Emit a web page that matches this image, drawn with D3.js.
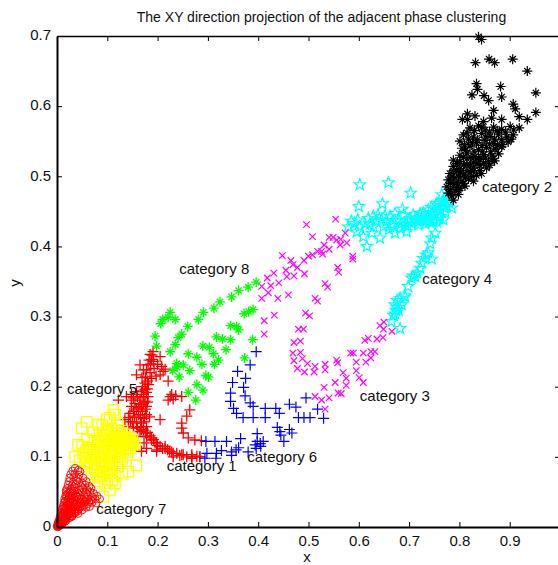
<!DOCTYPE html>
<html>
<head>
<meta charset="utf-8">
<script src="https://cdn.jsdelivr.net/npm/d3@7/dist/d3.min.js"></script>
<style>
html,body{margin:0;padding:0;background:#fff;overflow:hidden}
svg{display:block}
text{font-family:"Liberation Sans",Arial,sans-serif;fill:#111}
</style>
</head>
<body>
<svg id="chart" width="558" height="565"></svg>
<script>
const titleText = "The XY direction projection of the adjacent phase clustering";
const xTicks = [0,0.1,0.2,0.3,0.4,0.5,0.6,0.7,0.8,0.9];
const yTicks = [0,0.1,0.2,0.3,0.4,0.5,0.6,0.7];
const categoryNames = ["category 1","category 2","category 3","category 4","category 5","category 6","category 7","category 8"];
const categoryLabelAt = [[0.218,0.08],[0.845,0.478],[0.602,0.179],[0.726,0.346],[0.02,0.19],[0.378,0.093],[0.078,0.019],[0.243,0.361]];

const cat1 = [[.284,.100],[.268,.103],[.268,.098],[.248,.103],[.231,.105],[.231,.100],[.215,.115],[.198,.110],[.198,.120],[.188,.127],[.178,.129],[.168,.139],
[.264,.167],[.258,.158],[.248,.148],[.248,.141],[.251,.134],[.261,.127],[.274,.124],[.287,.123],
[.135,.153],[.142,.143],[.152,.141],[.165,.136],[.188,.124],[.195,.120],[.205,.115],[.215,.112],[.224,.108],[.238,.105],[.251,.103],[.268,.100],[.284,.100],[.198,.108],[.173,.120],[.168,.108],[.178,.112],
[.191,.250],[.185,.246],[.188,.239],[.205,.243],[.165,.231],[.181,.231],[.178,.224],[.208,.229],[.211,.222],[.205,.217],[.185,.220],[.158,.217],[.188,.212],[.221,.208],[.175,.205],[.175,.196],[.172,.189],[.158,.193],[.148,.189],[.228,.189],[.231,.182],[.221,.181],[.248,.186],[.165,.181],[.148,.181],[.138,.186],[.122,.181],[.175,.179],[.148,.172],[.162,.170],[.178,.172],[.145,.162],[.162,.160],[.178,.160],[.205,.153],[.172,.150],[.178,.143],[.158,.148],[.168,.172],[.181,.186],[.192,.236],[.169,.213],[.182,.203],[.155,.176],[.170,.165],[.184,.157],[.166,.143],[.176,.134],[.160,.129],
[.189,.245],[.183,.238],[.176,.214],[.180,.208],[.170,.200],[.178,.192],[.168,.194],[.160,.186],[.172,.184],[.152,.184],[.180,.178],[.158,.168],[.172,.176],[.176,.168],[.166,.156],[.174,.155],[.152,.165],[.142,.156],[.150,.150],[.160,.142],[.172,.138],[.180,.135],[.185,.130],[.192,.125],[.200,.116],[.210,.112],[.220,.110],[.228,.107],[.244,.102],[.258,.100],[.278,.101],[.197,.215],[.193,.226],[.215,.225],[.200,.232],[.225,.186],[.236,.187],[.165,.175],[.168,.148],[.154,.158],[.146,.150],[.180,.197],[.186,.232],[.172,.224]];

const cat2 = [[.838,.699],[.844,.695],[.832,.662],[.859,.667],[.870,.662],[.906,.667],[.935,.650],[.834,.632],[.836,.624],[.882,.628],[.825,.616],[.849,.615],[.858,.608],[.884,.613],[.952,.619],[.907,.603],[.911,.596],[.868,.594],[.952,.591],[.919,.585],[.935,.581],[.884,.581],[.864,.583],[.816,.589],[.831,.586],[.806,.581],[.816,.581],[.848,.578],
[.821,.569],[.838,.572],[.851,.566],[.868,.570],[.884,.567],[.901,.571],[.919,.569],[.808,.559],[.828,.556],[.844,.561],[.861,.557],[.878,.560],[.894,.556],[.907,.559],[.801,.550],[.818,.553],[.834,.548],[.851,.551],[.868,.547],[.884,.552],[.897,.549],[.805,.540],[.821,.543],[.838,.538],[.854,.541],[.871,.539],[.884,.542],[.801,.530],[.815,.533],[.831,.528],[.848,.531],[.864,.529],[.878,.532],[.788,.523],[.801,.521],[.815,.525],[.828,.520],[.841,.524],[.858,.521],[.868,.525],[.788,.514],[.801,.511],[.815,.516],[.828,.512],[.841,.515],[.854,.512],[.781,.504],[.795,.507],[.808,.502],[.821,.505],[.834,.501],[.844,.504],[.778,.495],[.791,.498],[.805,.493],[.818,.496],[.828,.493],[.775,.485],[.788,.488],[.801,.483],[.811,.486],[.778,.476],[.791,.479],[.798,.474],[.788,.466],
[.830,.565],[.845,.570],[.860,.563],[.875,.565],[.892,.563],[.908,.566],[.815,.562],[.836,.552],[.852,.556],[.870,.553],[.886,.545],[.903,.553],[.810,.545],[.826,.548],[.845,.544],[.860,.546],[.876,.544],[.812,.537],[.829,.535],[.846,.535],[.862,.535],[.808,.527],[.823,.527],[.838,.525],[.852,.526],[.870,.522],[.795,.518],[.808,.516],[.822,.516],[.835,.518],[.848,.518],[.860,.516],[.788,.508],[.802,.506],[.815,.508],[.828,.508],[.840,.508],[.785,.499],[.798,.500],[.812,.499],[.824,.500],[.782,.490],[.795,.491],[.808,.490],[.782,.481],[.795,.484],[.785,.472],[.798,.480]];

const cat3 = [[.554,.439],[.496,.431],[.508,.414],[.573,.419],[.541,.413],[.549,.413],[.556,.409],[.564,.410],[.563,.402],[.576,.405],[.531,.402],[.541,.396],[.588,.386],[.588,.382],[.526,.393],[.518,.393],[.528,.389],[.508,.388],[.500,.386],[.491,.380],[.448,.387],[.465,.380],[.469,.374],[.478,.370],[.455,.366],[.457,.357],[.471,.358],[.492,.361],[.558,.370],[.560,.363],[.431,.362],[.418,.355],[.407,.343],[.425,.344],[.441,.348],[.420,.334],[.407,.326],[.439,.326],[.460,.331],[.533,.347],[.538,.342],[.513,.326],[.518,.322],[.494,.305],[.502,.301],[.432,.302],[.412,.294],[.412,.275],[.480,.282],[.490,.282],[.471,.263],[.484,.265],[.469,.248],[.484,.249],[.471,.237],[.488,.240],[.478,.226],[.498,.233],[.492,.221],[.511,.221],[.513,.229],[.533,.232],[.533,.224],[.556,.238],[.558,.234],[.584,.248],[.589,.248],[.609,.248],[.614,.235],[.624,.250],[.632,.250],[.624,.241],[.595,.235],[.595,.223],[.569,.220],[.601,.213],[.575,.212],[.575,.202],[.609,.206],[.553,.206],[.531,.199],[.559,.191],[.565,.190],[.513,.186],[.526,.181],[.541,.184],[.533,.168],[.612,.266],[.619,.269],[.636,.268],[.648,.270],[.642,.287],[.650,.292],[.649,.282],[.666,.279]];

const cat4 = [[.602,.488],[.659,.491],[.703,.476],[.600,.457],[.647,.461],[.687,.453],[.765,.474],
[.579,.428],[.592,.433],[.602,.428],[.596,.421],[.609,.414],[.616,.400],[.619,.440],[.629,.443],[.629,.428],[.626,.419],[.642,.412],[.645,.438],[.649,.428],[.662,.443],[.672,.447],[.665,.431],[.672,.419],[.679,.438],[.689,.445],[.692,.431],[.695,.421],[.702,.440],[.712,.438],[.718,.431],[.722,.447],[.732,.445],[.738,.452],[.741,.440],[.751,.455],[.751,.445],[.758,.462],[.761,.450],[.768,.466],[.768,.438],[.775,.457],[.785,.455],[.778,.469],[.705,.433],[.728,.438],[.748,.435],[.682,.426],[.655,.436],[.635,.436],[.760,.440],[.745,.448],[.725,.440],[.765,.458],[.735,.437],[.772,.449],[.755,.435],
[.752,.419],[.745,.412],[.742,.404],[.734,.388],[.745,.382],[.725,.376],[.722,.369],[.712,.357],[.705,.355],[.698,.343],[.692,.328],[.682,.326],[.672,.317],[.685,.317],[.679,.309],[.669,.302],[.665,.293],[.682,.283],[.738,.391],[.728,.383],[.716,.362],[.676,.323],[.674,.309],
[.585,.436],[.598,.438],[.612,.432],[.638,.445],[.652,.444],[.668,.437],[.684,.432],[.698,.436],[.708,.445],[.716,.441],[.728,.448],[.736,.442],[.744,.456],[.750,.438],[.754,.461],[.762,.443],[.766,.463],[.770,.455],[.740,.435],[.720,.436],[.697,.428],[.660,.424],[.622,.432],[.668,.429],[.732,.432],[.756,.451],[.773,.463],[.780,.462],[.708,.358],[.676,.313],[.672,.304],[.691,.330]];

const cat5 = [[.112,.167],[.059,.150],[.049,.141],[.082,.146],[.099,.153],[.115,.160],[.042,.117],[.036,.100],[.158,.088],[.142,.079],[.105,.053],[.092,.043],[.115,.062],
[.090,.145],[.105,.156],[.120,.148],[.098,.139],[.072,.135],[.085,.132],[.100,.136],[.115,.134],[.130,.137],
[.060,.125],[.075,.123],[.090,.127],[.105,.124],[.120,.126],[.135,.123],[.150,.125],[.050,.115],[.065,.113],[.080,.116],[.095,.113],[.110,.116],[.125,.114],[.140,.116],[.155,.117],
[.052,.105],[.065,.103],[.080,.106],[.095,.103],[.110,.106],[.125,.104],[.140,.106],[.045,.095],[.060,.093],[.075,.096],[.090,.093],[.105,.096],[.120,.094],[.130,.097],
[.060,.086],[.075,.083],[.090,.086],[.105,.083],[.120,.086],[.070,.075],[.085,.073],[.100,.076],[.115,.073],[.130,.076],[.080,.065],[.095,.063],[.110,.066],
[.130,.120],[.138,.127],[.145,.122],[.150,.118],[.128,.111],[.136,.110],[.120,.120],[.112,.110],[.102,.118],[.092,.108],
[.108,.140],[.122,.138],[.135,.132],[.126,.130],[.116,.128],[.142,.128],[.110,.130],[.096,.130],[.082,.122],[.098,.122],[.114,.122],[.125,.118],[.134,.118],[.146,.112],[.118,.108],[.104,.110],[.088,.114],[.072,.110],[.058,.108],[.086,.100],[.100,.100],[.114,.100],[.126,.100],[.070,.100],[.056,.098],[.082,.090],[.096,.088],[.110,.090],[.068,.090],[.078,.080],[.092,.079],[.108,.078],[.084,.070],[.100,.068],[.125,.128],[.139,.120],[.131,.126],[.148,.121],[.143,.117]];

const cat6 = [[.396,.250],[.384,.231],[.359,.222],[.349,.206],[.375,.212],[.371,.199],[.345,.191],[.345,.179],[.374,.187],[.351,.169],[.357,.162],[.384,.177],[.390,.172],[.370,.156],[.390,.156],[.414,.156],[.414,.169],[.435,.169],[.442,.162],[.462,.175],[.475,.171],[.480,.156],[.491,.156],[.503,.156],[.495,.184],[.518,.168],[.530,.155],[.438,.142],[.443,.136],[.445,.131],[.462,.139],[.467,.134],[.451,.122],[.398,.133],[.398,.122],[.394,.117],[.404,.119],[.410,.122],[.365,.126],[.361,.113],[.356,.110],[.337,.122],[.314,.122],[.296,.122],[.327,.109],[.317,.105],[.298,.105],[.347,.107],[.380,.107],[.396,.112],[.405,.115],[.316,.098],[.347,.102],[.294,.098]];

const cat7 = [[.036,.084],[.031,.080],[.042,.081],[.046,.079],[.027,.075],[.035,.076],[.044,.074],[.025,.070],[.033,.071],[.042,.069],[.052,.070],[.024,.065],[.032,.064],[.040,.066],[.050,.063],[.058,.065],
[.022,.060],[.030,.059],[.038,.061],[.047,.058],[.056,.060],[.064,.058],[.020,.055],[.028,.054],[.036,.056],[.044,.053],[.052,.055],[.060,.053],[.068,.055],[.019,.050],[.026,.049],[.034,.051],[.042,.048],[.050,.050],[.058,.048],[.066,.050],[.073,.048],
[.017,.045],[.024,.044],[.031,.046],[.039,.043],[.046,.045],[.054,.043],[.062,.045],[.070,.043],[.080,.044],[.015,.040],[.022,.039],[.029,.041],[.036,.038],[.044,.040],[.052,.038],[.060,.040],[.068,.038],[.076,.040],[.085,.040],
[.014,.035],[.020,.034],[.026,.036],[.033,.033],[.040,.035],[.047,.033],[.054,.035],[.061,.033],[.070,.035],[.078,.034],[.012,.030],[.017,.029],[.023,.031],[.029,.028],[.035,.030],[.042,.028],[.050,.030],[.058,.028],[.065,.029],
[.010,.025],[.015,.024],[.020,.026],[.025,.023],[.030,.025],[.036,.023],[.042,.025],[.050,.024],[.008,.020],[.012,.019],[.016,.021],[.020,.018],[.025,.020],[.030,.018],[.036,.020],[.042,.019],
[.006,.015],[.009,.014],[.012,.016],[.016,.013],[.020,.015],[.025,.013],[.030,.015],[.004,.010],[.006,.009],[.009,.011],[.012,.008],[.015,.010],[.018,.009],[.002,.006],[.004,.005],[.006,.007],[.008,.004],[.012,.006],[.001,.003],[.003,.002],[.005,.003],[.000,.001],[.002,.001],[.001,.000],
[.018,.052],[.022,.048],[.026,.052],[.028,.044],[.032,.048],[.035,.042],[.019,.044],[.023,.040],[.027,.038],[.031,.036],[.016,.037],[.019,.036],[.022,.032],[.025,.034],[.028,.030],[.032,.026],[.035,.028],[.038,.026],[.014,.030],[.018,.026],[.021,.024],[.024,.022],[.027,.021],[.012,.026],[.014,.022],[.017,.020],[.020,.016],[.023,.017],[.026,.015],[.010,.018],[.013,.016],[.015,.013],[.018,.012],[.007,.012],[.010,.011],[.013,.011],[.016,.008],[.005,.008],[.008,.007],[.011,.005],[.003,.004],[.006,.003],[.004,.001],
[.040,.044],[.044,.036],[.048,.040],[.038,.032],[.046,.028],[.054,.030],[.056,.037],[.064,.036],[.034,.020],[.040,.022],[.029,.015]];

const cat8 = [[.396,.349],[.380,.342],[.361,.337],[.347,.328],[.324,.321],[.312,.312],[.291,.306],[.281,.296],[.260,.286],[.248,.275],[.241,.270],[.235,.260],[.225,.250],[.198,.258],[.195,.272],[.206,.290],[.210,.296],[.225,.306],[.221,.299],[.235,.296],[.390,.310],[.381,.307],[.372,.304],[.345,.287],[.357,.286],[.361,.281],[.317,.271],[.329,.268],[.345,.267],[.336,.253],[.389,.267],[.373,.241],[.290,.258],[.303,.256],[.311,.247],[.321,.238],[.313,.232],[.261,.247],[.278,.242],[.288,.232],[.238,.233],[.239,.228],[.251,.231],[.230,.223],[.264,.223],[.243,.214],[.296,.216],[.301,.214],[.278,.203],[.290,.195],[.261,.192],[.276,.181]];

const svg = d3.select("#chart");
const x = d3.scaleLinear().domain([0,1]).range([57,560]);
const y = d3.scaleLinear().domain([0,0.7]).range([527,36]);

const plusMark = {draw(c,s){const r=Math.sqrt(s)/2;c.moveTo(-r,0);c.lineTo(r,0);c.moveTo(0,-r);c.lineTo(0,r);}};
const crossMark = {draw(c,s){const r=Math.sqrt(s)/2*0.72;c.moveTo(-r,-r);c.lineTo(r,r);c.moveTo(-r,r);c.lineTo(r,-r);}};
const asteriskMark = {draw(c,s){const r=Math.sqrt(s)/2,d=r*0.62;c.moveTo(-r,0);c.lineTo(r,0);c.moveTo(0,-r);c.lineTo(0,r);c.moveTo(-d,-d);c.lineTo(d,d);c.moveTo(-d,d);c.lineTo(d,-d);}};
const squareMark = {draw(c,s){const r=Math.sqrt(s)/2;c.rect(-r,-r,2*r,2*r);}};
const circleMark = {draw(c,s){const r=Math.sqrt(s)/2;c.moveTo(r,0);c.arc(0,0,r,0,2*Math.PI);}};
const starMark = {draw(c,s){const R=Math.sqrt(s)/2,r=R*0.42;for(let i=0;i<10;i++){const a=-Math.PI/2+i*Math.PI/5,q=i%2?r:R;const px=q*Math.cos(a),py=q*Math.sin(a);i?c.lineTo(px,py):c.moveTo(px,py);}c.closePath();}};

const layers = [
  {d:cat1,t:plusMark,s:11,c:"#ff0000",w:1.3},
  {d:cat5,t:squareMark,s:10.5,c:"#ffff00",w:1.3},
  {d:cat4,t:starMark,s:12,c:"#00ffff",w:1.2},
  {d:cat2,t:asteriskMark,s:10,c:"#000000",w:1.2},
  {d:cat3,t:crossMark,s:9,c:"#ff00ff",w:1.2},
  {d:cat6,t:plusMark,s:11,c:"#0000ff",w:1.2},
  {d:cat7,t:circleMark,s:7.5,c:"#ff0000",w:0.9},
  {d:cat8,t:asteriskMark,s:10,c:"#00ff00",w:1.3}
];

const marks = svg.append("g");
layers.forEach(l=>{
  const gen = d3.symbol().type(l.t).size(l.s*l.s);
  marks.append("g").selectAll("path").data(l.d).join("path")
    .attr("d",gen())
    .attr("transform",d=>`translate(${x(d[0])},${y(d[1])})`)
    .attr("fill","none").attr("stroke",l.c).attr("stroke-width",l.w);
});

const fmt = d=>d===0?"0":d3.format(".1f")(d);
const styleAxis = (g,w)=>{
  g.selectAll(".domain").attr("stroke","#000").attr("stroke-width",w);
  g.selectAll(".tick line").attr("stroke","#000").attr("stroke-width",1);
  g.selectAll("text").style("font-family",'"Liberation Sans",Arial,sans-serif').style("font-size","15px").attr("fill","#111");
};
svg.append("g").attr("transform","translate(0,527)")
  .call(d3.axisBottom(x).tickValues(xTicks).tickFormat(fmt).tickSizeInner(-5).tickSizeOuter(0).tickPadding(8))
  .call(styleAxis,2);
svg.append("g").attr("transform","translate(57,0)")
  .call(d3.axisLeft(y).tickValues(yTicks).tickFormat(fmt).tickSizeInner(-5).tickSizeOuter(0).tickPadding(6))
  .call(g=>g.selectAll("text").attr("dy","0.25em"))
  .call(styleAxis,2);
svg.append("g").attr("transform","translate(0,36)")
  .call(d3.axisTop(x).tickValues(xTicks).tickFormat("").tickSizeInner(-5).tickSizeOuter(0))
  .call(styleAxis,1.5);
svg.append("g").attr("transform","translate(560,0)")
  .call(d3.axisRight(y).tickValues(yTicks).tickFormat("").tickSizeInner(-5).tickSizeOuter(0))
  .call(styleAxis,1.5);

svg.append("text").attr("x",321.5).attr("y",22).attr("text-anchor","middle").style("font-size","14px").text(titleText);
svg.append("text").attr("x",307).attr("y",562).attr("text-anchor","middle").style("font-size","15px").text("x");
svg.append("text").attr("transform","translate(20,283) rotate(-90)").attr("text-anchor","middle").style("font-size","15px").text("y");

svg.append("g").selectAll("text").data(categoryNames).join("text")
  .attr("x",(d,i)=>x(categoryLabelAt[i][0]))
  .attr("y",(d,i)=>y(categoryLabelAt[i][1]))
  .style("font-size","15px").text(d=>d);
</script>
</body>
</html>
